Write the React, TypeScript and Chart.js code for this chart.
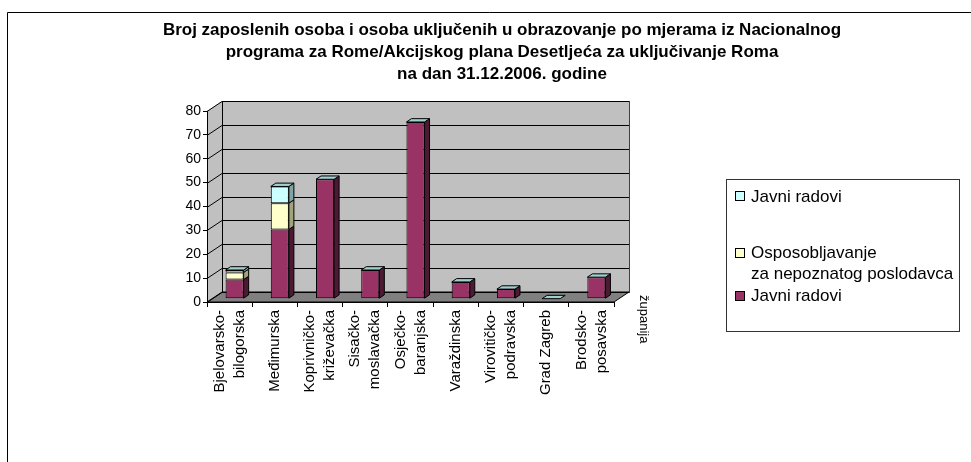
import { useEffect, useRef } from 'react';
import { Chart, registerables } from 'chart.js';

Chart.register(...registerables);

// ---------- data ----------
const TITLE_LINES = [
  'Broj zaposlenih osoba i osoba uključenih u obrazovanje po mjerama iz Nacionalnog',
  'programa za Rome/Akcijskog plana Desetljeća za uključivanje Roma',
  'na dan 31.12.2006. godine',
];
const CATEGORIES: string[][] = [
  ['Bjelovarsko-', 'bilogorska'],
  ['Međimurska'],
  ['Koprivničko-', 'križevačka'],
  ['Sisačko-', 'moslavačka'],
  ['Osječko-', 'baranjska'],
  ['Varaždinska'],
  ['Virovitičko-', 'podravska'],
  ['Grad Zagreb'],
  ['Brodsko-', 'posavska'],
];
const X_AXIS_TITLE = 'županija';
const SERIES_BOTTOM_NAME = 'Javni radovi';
const SERIES_MIDDLE_NAME = ['Osposobljavanje', 'za nepoznatog poslodavca'];
const SERIES_TOP_NAME = 'Javni radovi';
const JAVNI_RADOVI_BOTTOM = [8, 29, 50, 12, 74, 7, 4, 0, 9];
const OSPOSOBLJAVANJE = [3, 11, 0, 0, 0, 0, 0, 0, 0];
const JAVNI_RADOVI_TOP = [1, 7, 0, 0, 0, 0, 0, 0, 0];
const Y_MIN = 0;
const Y_MAX = 80;
const Y_STEP = 10;

// ---------- style ----------
const FONT = 'Arial, "Liberation Sans", sans-serif';
const PURPLE = '#993366';
const YELLOW = '#FFFFCC';
const CYAN = '#CCFFFF';
const SIDE_COLORS = ['#4D1A33', '#A3A37A', '#80A3A3'];
const TOP_FACE = '#9FCFCF';
const WALL = '#C0C0C0';
const FLOOR = '#808080';
const DX = 15; // wall depth
const DY = -10;
const BX = 5; // bar depth offset / depth
const BY = -10 / 3;

function poly(ctx: CanvasRenderingContext2D, pts: number[][]) {
  ctx.beginPath();
  ctx.moveTo(pts[0][0], pts[0][1]);
  for (let i = 1; i < pts.length; i++) ctx.lineTo(pts[i][0], pts[i][1]);
  ctx.closePath();
}

const threeDPlugin = {
  id: 'threeD',
  beforeDraw(chart: any) {
    const ctx: CanvasRenderingContext2D = chart.ctx;
    const { left: L, right: R, top: T, bottom: B } = chart.chartArea;
    const ys = chart.scales.y;
    ctx.save();
    ctx.fillStyle = '#fff';
    ctx.fillRect(0, 0, chart.width, chart.height);
    // outer frame
    ctx.strokeStyle = '#000';
    ctx.lineWidth = 1;
    ctx.beginPath();
    ctx.moveTo(7.5, chart.height);
    ctx.lineTo(7.5, 12.5);
    ctx.lineTo(chart.width, 12.5);
    ctx.stroke();
    // left wall
    ctx.fillStyle = WALL;
    poly(ctx, [[L, T], [L + DX, T + DY], [L + DX, B + DY], [L, B]]);
    ctx.fill();
    // back wall
    ctx.fillRect(L + DX, T + DY, R - L, B - T);
    ctx.strokeStyle = '#404040';
    ctx.strokeRect(L + DX + 0.5, T + DY + 0.5, R - L, B - T);
    // floor
    ctx.fillStyle = FLOOR;
    poly(ctx, [[L, B], [R, B], [R + DX, B + DY], [L + DX, B + DY]]);
    ctx.fill();
    ctx.strokeStyle = '#000';
    ctx.stroke();
    // grid lines
    ctx.strokeStyle = '#000';
    ctx.lineWidth = 1;
    for (let v = Y_MIN; v <= Y_MAX; v += Y_STEP) {
      const py = Math.round(ys.getPixelForValue(v)) + 0.5;
      ctx.beginPath();
      ctx.moveTo(L, py);
      ctx.lineTo(L + DX, py + DY);
      ctx.lineTo(R + DX, py + DY);
      ctx.stroke();
    }
    ctx.beginPath();
    ctx.moveTo(L + DX + 0.5, T + DY);
    ctx.lineTo(L + DX + 0.5, B + DY);
    ctx.stroke();
    ctx.restore();
  },
  beforeDatasetsDraw(chart: any) {
    chart.ctx.save();
    chart.ctx.translate(BX, BY);
  },
  afterDatasetsDraw(chart: any) {
    const ctx: CanvasRenderingContext2D = chart.ctx;
    const n = chart.data.datasets.length;
    ctx.lineWidth = 1;
    ctx.strokeStyle = '#000';
    for (let di = 0; di < n; di++) {
      const meta = chart.getDatasetMeta(di);
      meta.data.forEach((el: any) => {
        const { x, y, base, width } = el;
        if (Math.abs(base - y) < 0.5) return;
        const xr = x + width / 2;
        poly(ctx, [[xr, y], [xr + BX, y + BY], [xr + BX, base + BY], [xr, base]]);
        ctx.fillStyle = SIDE_COLORS[di];
        ctx.fill();
        ctx.stroke();
      });
    }
    const top = chart.getDatasetMeta(n - 1);
    top.data.forEach((el: any) => {
      const { x, y, width } = el;
      const xl = x - width / 2;
      const xr = x + width / 2;
      poly(ctx, [[xl, y], [xr, y], [xr + BX, y + BY], [xl + BX, y + BY]]);
      ctx.fillStyle = TOP_FACE;
      ctx.fill();
      ctx.stroke();
    });
    ctx.restore();
  },
  afterDraw(chart: any) {
    const ctx: CanvasRenderingContext2D = chart.ctx;
    const { bottom: B, right: R } = chart.chartArea;
    const xs = chart.scales.x;
    ctx.save();
    ctx.fillStyle = '#000';
    // title
    ctx.font = `bold 17px ${FONT}`;
    ctx.textAlign = 'center';
    ctx.textBaseline = 'middle';
    TITLE_LINES.forEach((t, i) => ctx.fillText(t, 502, 30 + i * 22));
    // category labels
    ctx.font = `15px ${FONT}`;
    CATEGORIES.forEach((lines, i) => {
      const px = xs.getPixelForValue(i);
      lines.forEach((line, k) => {
        const off = (k - (lines.length - 1) / 2) * 20;
        ctx.save();
        ctx.translate(px + off, B + 8);
        ctx.rotate(-Math.PI / 2);
        ctx.textAlign = 'right';
        ctx.textBaseline = 'middle';
        ctx.fillText(line, 0, 0);
        ctx.restore();
      });
    });
    // axis title
    ctx.font = `13px ${FONT}`;
    ctx.save();
    ctx.translate(R + 30, B - 7);
    ctx.rotate(Math.PI / 2);
    ctx.textAlign = 'left';
    ctx.textBaseline = 'middle';
    ctx.fillText(X_AXIS_TITLE, 0, 0);
    ctx.restore();
    ctx.restore();
  },
};

export default function App() {
  const ref = useRef<HTMLCanvasElement>(null);
  useEffect(() => {
    const canvas = ref.current!;
    const common = {
      borderColor: '#000',
      borderWidth: 1,
      borderSkipped: false,
      barPercentage: 0.4,
      categoryPercentage: 1,
    };
    const chart = new Chart(canvas, {
      type: 'bar',
      data: {
        labels: CATEGORIES as any,
        datasets: [
          { label: SERIES_BOTTOM_NAME, data: JAVNI_RADOVI_BOTTOM, backgroundColor: PURPLE, ...common } as any,
          { label: SERIES_MIDDLE_NAME.join(' '), data: OSPOSOBLJAVANJE, backgroundColor: YELLOW, ...common } as any,
          { label: SERIES_TOP_NAME, data: JAVNI_RADOVI_TOP, backgroundColor: CYAN, ...common } as any,
        ],
      },
      options: {
        responsive: false,
        animation: false,
        devicePixelRatio: 1,
        layout: { padding: { left: 0, right: 357, top: 111, bottom: 0 } },
        plugins: {
          legend: { display: false },
          title: { display: false },
          tooltip: { enabled: false },
        },
        scales: {
          x: {
            stacked: true,
            ticks: { display: false },
            grid: { drawOnChartArea: false, drawTicks: true, tickLength: 5, color: '#000', offset: true },
            border: { display: true, color: '#000' },
            afterFit: (s: any) => { s.height = 160; },
          },
          y: {
            stacked: true,
            min: Y_MIN,
            max: Y_MAX,
            ticks: { stepSize: Y_STEP, color: '#000', font: { size: 14, family: FONT }, padding: 2 },
            grid: { drawOnChartArea: false, drawTicks: true, tickLength: 4, color: '#000' },
            border: { display: true, color: '#000' },
            afterFit: (s: any) => { s.width = 207; },
          },
        },
      },
      plugins: [threeDPlugin],
    });
    return () => chart.destroy();
  }, []);

  const legendText: any = {
    position: 'absolute',
    left: 751,
    font: `17px ${FONT}`,
    lineHeight: '21px',
    color: '#000',
    whiteSpace: 'nowrap',
  };
  const marker = (top: number, color: string): any => ({
    position: 'absolute',
    left: 735,
    top,
    width: 10,
    height: 10,
    boxSizing: 'border-box',
    border: '1px solid #000',
    background: color,
  });

  return (
    <div style={{ position: 'absolute', left: 0, top: 0, width: 971, height: 462, overflow: 'hidden', background: '#fff' }}>
      <canvas ref={ref} width={971} height={462} style={{ display: 'block' }} />
      <div style={{ position: 'absolute', left: 726, top: 179, width: 234, height: 153, boxSizing: 'border-box', border: '1px solid #333' }} />
      <div style={marker(191, CYAN)} />
      <div style={{ ...legendText, top: 196 - 10.5 }}>{SERIES_TOP_NAME}</div>
      <div style={marker(248, YELLOW)} />
      <div style={{ ...legendText, top: 252 - 10.5 }}>{SERIES_MIDDLE_NAME[0]}<br />{SERIES_MIDDLE_NAME[1]}</div>
      <div style={marker(291, PURPLE)} />
      <div style={{ ...legendText, top: 295 - 10.5 }}>{SERIES_BOTTOM_NAME}</div>
    </div>
  );
}
